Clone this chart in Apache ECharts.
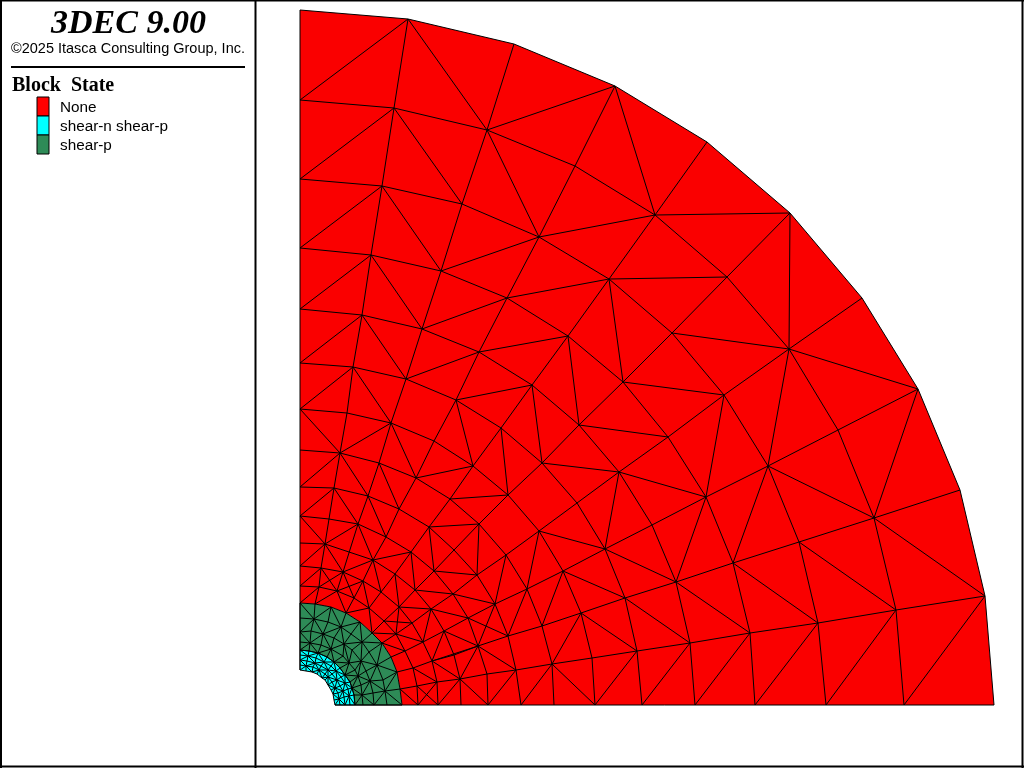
<!DOCTYPE html>
<html><head><meta charset="utf-8">
<style>html,body{margin:0;padding:0;background:#fff;overflow:hidden}#c{width:1024px;height:768px}</style>
<script src="https://cdn.jsdelivr.net/npm/echarts@6/dist/echarts.min.js"></script>
</head><body><div id="c"></div>
<script>
const titleText = '3DEC 9.00';
const copyrightText = '\u00A92025 Itasca Consulting Group, Inc.';
const legendTitle = 'Block  State';
const stateNames = ['None', 'shear-n shear-p', 'shear-p'];
const stateColors = ['#ff0000', '#00ffff', '#2e8b57'];

// Region outlines (x, y pairs)
const outerEdge = [300,10,408,19,514,44,615,86,707,142,790,213,862,298,918,389,960,490,985,596,994,705];

// Rings of mesh nodes around the opening
const ring102 = [300,603,315,604,331,607,346,613,360,622,372,633,382,643,391,657,397,672,400,689,402,705];
const ring87  = [300,618,314,619,328,622,341,627,351,634,362,642,369,652,377,665,383,680,385,691,387,705];
const ring74  = [300,632,311,631,323,634,334,638,344,644,352,650,361,661,366,671,370,681,373,693,374,705];
const ring63  = [300,642,310,643,321,645,331,649,343,656,349,663,355,670,358,676,361,685,362,695,363,705];
const ring55  = [300,650,309,651,318,653,327,657,334,662,340,668,345,675,350,682,352,688,354,695,355,705];
const ring50  = [300,655,308,656,316,658,324,662,331,666,336,671,341,677,345,683,348,689,349,696,350,705];
const ring45  = [300,660,307,661,315,663,321,666,328,670,332,674,337,680,340,686,343,691,344,697,345,705];
const ring40  = [300,665,306,666,313,667,319,670,325,674,328,677,332,682,335,688,338,693,339,699,340,705];
const ring35  = [300,670,306,671,312,672,317,674,322,678,325,680,328,685,331,690,333,694,334,700,335,705];

// Long mesh lines running across the blocks
const meshRows = [
 [300,100,394,108,487,130,575,166,655,215],
 [300,179,382,186,462,204,539,237,609,279,672,333,724,395,768,466,799,542,818,623,826,705],
 [300,248,371,255,441,271,507,298,568,336,623,382,668,437,706,497,733,563,750,633,755,705],
 [300,309,362,315,422,329,479,352,532,385,579,425,619,472,652,525,676,582,690,643,695,705],
 [300,363,353,367,406,379,456,400,501,428,542,463,577,503,605,549,625,598,637,651,642,705],
 [300,409,347,413,391,423,434,441,473,466,508,495,539,531,563,571,581,613,592,658,595,705],
 [300,450,340,453,379,463,416,478,450,499,479,524,506,555,527,589,542,626,552,664,554,705],
 [300,487,334,488,368,496,399,509,429,527,454,550,477,575,495,604,508,636,516,670,521,705],
 [300,516,329,519,358,524,386,537,411,552,434,571,453,594,468,618,478,646,487,674,488,705],
 [300,543,325,544,373,560,395,574,415,590,431,609,444,631,454,655,460,679,461,705],
 [300,566,321,568,343,572,363,581,381,592,399,607,412,623,423,642,432,661,437,682,438,705],
 [300,586,319,587,337,591,354,598,369,608,384,621,396,634,405,651,413,668,417,686,418,705],
 [790,213,789,349,838,430,874,518,896,610,904,705]
];
const meshColumns = [
 [408,19,394,108,382,186,371,255,362,315,353,367,347,413,340,453,334,488,329,519,325,544,321,568,319,587,315,604],
 [514,44,487,130,462,204,441,271,422,329,406,379,391,423,379,463,368,496,358,524,343,572,337,591],
 [615,86,575,166,539,237,507,298,479,352,456,400,434,441,416,478,399,509,386,537,373,560,363,581,354,598,346,613],
 [707,142,655,215,609,279,568,336,532,385,501,428,473,466,450,499,429,527,411,552,395,574,381,592,369,608,372,633],
 [790,213,727,277,672,333,623,382,579,425,542,463,508,495,479,524,454,550,434,571,415,590,399,607,384,621,372,633],
 [862,298,789,349,724,395,668,437,619,472,577,503,539,531,506,555,477,575,453,594,431,609,412,623,396,634,382,643],
 [918,389,838,430,768,466,706,497,652,525,605,549,563,571,527,589,495,604,468,618,444,631,423,642,405,651,391,657],
 [960,490,874,518,799,542,733,563,676,582,625,598,581,613,542,626,508,636,478,646,454,655,432,661,413,668,397,672],
 [985,596,896,610,818,623,750,633,690,643,637,651,592,658,552,664,516,670,487,674,460,679,437,682,417,686,400,689]
];
// Single diagonal edges of the blocks (x1,y1,x2,y2)
const meshDiagonals = [
 408,19,300,100, 408,19,487,130, 615,86,487,130, 615,86,655,215, 655,215,790,213,
 394,108,300,179, 394,108,462,204, 487,130,539,237, 655,215,539,237, 655,215,727,277,
 382,186,300,248, 382,186,441,271, 539,237,441,271, 609,279,507,298, 609,279,727,277, 609,279,623,382, 727,277,789,349,
 371,255,300,309, 371,255,422,329, 507,298,422,329, 568,336,479,352, 568,336,579,425, 623,382,724,395, 672,333,789,349,
 789,349,918,389, 789,349,768,466,
 362,315,300,363, 362,315,406,379, 479,352,406,379, 532,385,456,400, 532,385,542,463, 579,425,668,437, 724,395,706,497,
 768,466,733,563, 768,466,874,518, 918,389,874,518,
 353,367,300,409, 353,367,391,423, 456,400,473,466, 501,428,508,495, 542,463,619,472, 619,472,605,549, 619,472,706,497,
 300,409,340,453, 391,423,340,453, 391,423,416,478, 473,466,416,478,
 340,453,300,487, 340,453,368,496, 379,463,399,509, 450,499,508,495, 605,549,539,531, 605,549,676,582, 706,497,676,582,
 733,563,818,623, 799,542,896,610, 874,518,985,596,
 334,488,300,516, 334,488,358,524, 368,496,386,537, 479,524,429,527, 539,531,527,589, 563,571,625,598, 563,571,542,626,
 581,613,552,664, 581,613,637,651, 676,582,750,633, 625,598,690,643, 637,651,595,705, 690,643,642,705, 750,633,695,705,
 818,623,755,705, 896,610,826,705, 985,596,904,705, 552,664,595,705, 552,664,521,705, 516,670,488,705, 460,679,488,705,
 460,679,438,705, 437,682,418,705, 417,686,438,705, 400,689,418,705,
 300,516,325,544, 358,524,325,544, 358,524,373,560, 429,527,434,571, 479,524,477,575, 506,555,495,604, 527,589,508,636,
 495,604,453,594, 495,604,478,646, 468,618,508,636, 468,618,431,609, 373,560,411,552, 411,552,415,590, 434,571,477,575,
 453,594,415,590, 395,574,399,607, 381,592,373,560, 373,560,343,572, 363,581,337,591, 343,572,354,598, 343,572,319,587,
 325,544,343,572, 321,568,300,586, 325,544,300,566, 321,568,337,591, 319,587,300,603, 337,591,346,613, 337,591,315,604,
 369,608,346,613, 363,581,369,608, 399,607,396,634, 431,609,423,642, 444,631,432,661, 444,631,478,646, 460,679,478,646,
 432,661,460,679, 413,668,437,682, 396,634,423,642, 396,634,372,633, 384,621,412,623, 382,643,405,651, 478,646,516,670,
 432,661,478,646, 399,607,431,609
];

function pairs(flat){const out=[];for(let i=0;i+1<flat.length;i+=2)out.push([flat[i],flat[i+1]]);return out;}
function quads(flat){const out=[];for(let i=0;i+3<flat.length;i+=4)out.push([[flat[i],flat[i+1]],[flat[i+2],flat[i+3]]]);return out;}
function ringMesh(rings){
 const r=rings.map(pairs),out=[];
 r.forEach(x=>out.push(x));
 for(let j=0;j+1<r.length;j++)for(let i=0;i<r[j].length;i++){
  out.push([r[j][i],r[j+1][i]]);
  if(i+1<r[j].length){
   if((i+j)%2===0)out.push([r[j][i],r[j+1][i+1]]);else out.push([r[j][i+1],r[j+1][i]]);
  }
 }
 return out;
}
const outerPts=pairs(outerEdge), r102=pairs(ring102), r55=pairs(ring55), r35=pairs(ring35);
const regions=[
 {pts:outerPts.concat(r102.slice().reverse()),color:'#fa0000'},
 {pts:r102.concat(r55.slice().reverse()),color:stateColors[2]},
 {pts:r55.concat(r35.slice().reverse()),color:stateColors[1]}
];
const outlinePts=[[300,670]].concat(outerPts,[[335,705]]);
const meshData=[].concat(meshRows.map(pairs),meshColumns.map(pairs),quads(meshDiagonals),ringMesh([ring102,ring87,ring74,ring63,ring55]),ringMesh([ring55,ring50,ring45,ring40,ring35]),[outlinePts]).map(c=>({coords:c}));

const g=[];
const frame=[[0,0.5,1024,0.5],[1,0,1,768],[0,766.5,1024,766.5],[1022.5,0,1022.5,768],[255.5,0,255.5,768]];
frame.forEach(f=>g.push({type:'line',z:10,shape:{x1:f[0],y1:f[1],x2:f[2],y2:f[3]},style:{stroke:'#000',lineWidth:2}}));
g.push({type:'line',z:10,shape:{x1:11,y1:67,x2:245,y2:67},style:{stroke:'#000',lineWidth:2}});
g.push({type:'text',z:10,x:128.5,y:7,style:{text:titleText,fill:'#000',font:'italic bold 34px "Liberation Serif"',textAlign:'center',textVerticalAlign:'top'}});
g.push({type:'text',z:10,x:128,y:41,style:{text:copyrightText,fill:'#000',font:'14.5px "Liberation Sans"',textAlign:'center',textVerticalAlign:'top'}});
g.push({type:'text',z:10,x:12,y:76,style:{text:legendTitle,fill:'#000',font:'bold 20px "Liberation Serif"',textAlign:'left',textVerticalAlign:'top'}});
stateNames.forEach((n,i)=>{
 g.push({type:'rect',z:10,shape:{x:37,y:97+i*19,width:12,height:19},style:{fill:stateColors[i],stroke:'#000',lineWidth:1}});
 g.push({type:'text',z:10,x:60,y:100+i*19,style:{text:n,fill:'#000',font:'15.3px "Liberation Sans"',textAlign:'left',textVerticalAlign:'top'}});
});

const chart=echarts.init(document.getElementById('c'),null,{renderer:'canvas',width:1024,height:768});
chart.setOption({
 animation:false,backgroundColor:'#fff',
 grid:{left:0,right:0,top:0,bottom:0},
 xAxis:{type:'value',min:0,max:1024,show:false},
 yAxis:{type:'value',min:0,max:768,inverse:true,show:false},
 graphic:g,
 series:[
  {type:'custom',coordinateSystem:'cartesian2d',silent:true,data:regions.map((r,i)=>[i]),encode:{x:[],y:[]},clip:false,
   renderItem:function(p,api){const r=regions[api.value(0)];
    return {type:'polygon',shape:{points:r.pts.map(q=>api.coord(q))},style:{fill:r.color,stroke:null}};}},
  {type:'lines',coordinateSystem:'cartesian2d',polyline:true,silent:true,z:5,data:meshData,lineStyle:{color:'#000',width:1,opacity:1}}
 ]
});
</script></body></html>
